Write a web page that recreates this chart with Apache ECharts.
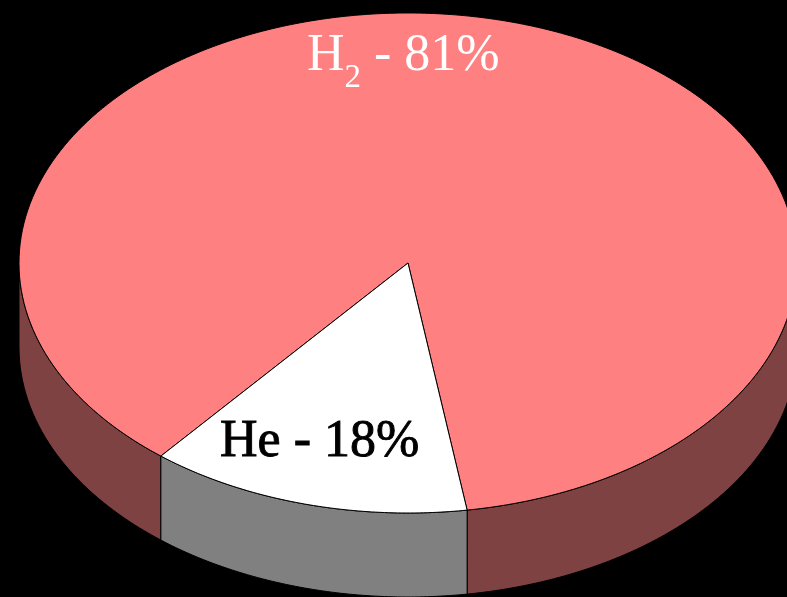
<!DOCTYPE html>
<html>
<head>
<meta charset="utf-8">
<script src="https://cdn.jsdelivr.net/npm/echarts@6/dist/echarts.min.js"></script>
<style>
  html, body { margin: 0; padding: 0; background: #000; }
  #chart { width: 787px; height: 597px; }
</style>
</head>
<body>
<div id="chart"></div>
<script>
// gas shares (percent)
const gasNames = ['H', 'He'];
const gasSubs = ['2', ''];
const gasValues = [81, 18];

// colours per slice: top face, side wall, label
const topColors = ['#ff8080', '#ffffff'];
const sideColors = ['#7f4242', '#808080'];
const textColors = ['#ffffff', '#000000'];
const textStrokes = [0, 0.9];

// disc geometry (pixels) – ellipse seen from above with a wall
const CX = 408, CY = 263, RX = 389, RY = 250, DEPTH = 84;
const START = 142; // degrees, screen angle where the first slice begins
const FONT = '"Liberation Serif", "Times New Roman", serif';

const total = gasValues.reduce((a, b) => a + b, 0);

// point of the rim at screen angle deg, optionally moved down by drop
function rim(deg, drop) {
    const t = deg * Math.PI / 180;
    const c = Math.cos(t), s = Math.sin(t);
    const r = 1 / Math.sqrt(c * c / (RX * RX) + s * s / (RY * RY));
    return [CX + r * c, CY + r * s + (drop || 0)];
}

function arc(a0, a1, drop) {
    const pts = [];
    const n = Math.max(2, Math.ceil(Math.abs(a1 - a0)));
    for (let i = 0; i <= n; i++) {
        pts.push(rim(a0 + (a1 - a0) * i / n, drop));
    }
    return pts;
}

const measure = document.createElement('canvas').getContext('2d');
function textWidth(str, size) {
    measure.font = size + 'px ' + FONT;
    return measure.measureText(str).width;
}

// where the labels sit (left x, baseline y)
const labelAnchors = [[307, 72], [220, 458]];

function renderItem(params, api) {
    const idx = params.dataIndex;
    let before = 0;
    for (let i = 0; i < idx; i++) before += gasValues[i];
    const a0 = START + before / total * 360;
    const a1 = a0 + api.value(0) / total * 360;

    const children = [];

    // side wall, only the front half (0..180 deg) is seen
    for (let k = 0; k < 2; k++) {
        const lo = Math.max(a0, 360 * k);
        const hi = Math.min(a1, 360 * k + 180);
        if (hi > lo) {
            const pts = arc(lo, hi, 0).concat(arc(hi, lo, DEPTH));
            children.push({
                type: 'polygon',
                z2: 1,
                shape: { points: pts },
                style: { fill: sideColors[idx], stroke: '#000', lineWidth: 1 }
            });
        }
    }

    // top face
    children.push({
        type: 'polygon',
        z2: 10,
        shape: { points: [[CX, CY]].concat(arc(a0, a1, 0)) },
        style: { fill: topColors[idx], stroke: '#000', lineWidth: 1 }
    });

    // label: name, subscript, " - value%"
    const size = 52, subSize = 33;
    let x = labelAnchors[idx][0];
    const base = labelAnchors[idx][1];
    const pieces = [
        { t: gasNames[idx], s: size, dy: 0 },
        { t: gasSubs[idx], s: subSize, dy: 16 },
        { t: ' - ' + api.value(0) + '%', s: size, dy: 0 }
    ];
    pieces.forEach(p => {
        if (!p.t) return;
        children.push({
            type: 'text',
            z2: 20,
            x: x,
            y: base + p.dy - 0.8 * p.s,
            style: {
                text: p.t,
                font: p.s + 'px ' + FONT,
                fill: textColors[idx],
                stroke: textStrokes[idx] ? textColors[idx] : null,
                lineWidth: textStrokes[idx],
                textAlign: 'left',
                textVerticalAlign: 'top'
            }
        });
        x += textWidth(p.t, p.s);
    });

    return { type: 'group', children: children };
}

const chart = echarts.init(document.getElementById('chart'));
chart.setOption({
    backgroundColor: '#000000',
    animation: false,
    series: [{
        type: 'custom',
        coordinateSystem: 'none',
        renderItem: renderItem,
        data: gasValues.map((v, i) => ({ name: gasNames[i] + gasSubs[i], value: [v] }))
    }]
});
</script>
</body>
</html>
